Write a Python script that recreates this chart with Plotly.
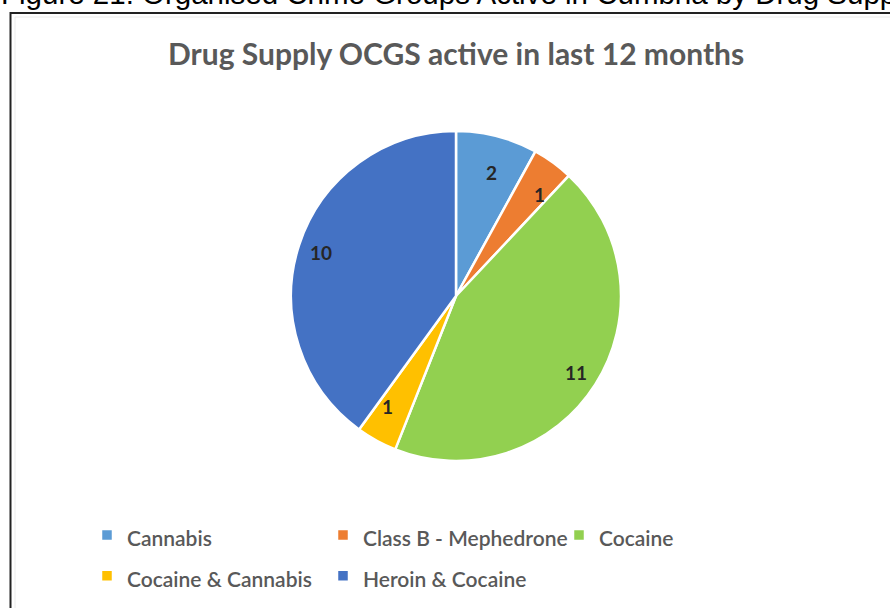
import math
import plotly.graph_objects as go

# Drug supply types and number of organised crime groups active in each
categories = ["Cannabis", "Class B - Mephedrone", "Cocaine",
              "Cocaine & Cannabis", "Heroin & Cocaine"]
ocg_counts = [2, 1, 11, 1, 10]
slice_colors = ["#5B9BD5", "#ED7D31", "#92D050", "#FFC000", "#4472C4"]

W, H = 890, 608
TEXT_GREY = "#595959"

# pie geometry in page pixels
CX, CY, R = 456, 296, 165

# legend rows are spaced by the legend's base font size; the visible
# label text is set smaller inside a span
legend_labels = [f'<span style="font-size:21px">{c}</span>' for c in categories]

fig = go.Figure()
fig.add_trace(go.Pie(
    labels=legend_labels,
    values=ocg_counts,
    marker=dict(colors=slice_colors, line=dict(color="white", width=2.5)),
    sort=False,
    direction="clockwise",
    rotation=0,
    textinfo="none",
    hovertemplate="%{customdata}: %{value}<extra></extra>",
    customdata=categories,
    domain=dict(x=[(CX - R) / W, (CX + R) / W],
                y=[1 - (CY + R) / H, 1 - (CY - R) / H]),
))

# data labels placed at each slice's mid-angle, near the rim
annotations = []
total = sum(ocg_counts)
cum = 0
for v in ocg_counts:
    mid = (cum + v / 2) / total * 2 * math.pi
    cum += v
    px = CX + 0.86 * R * math.sin(mid)
    py = CY - 0.86 * R * math.cos(mid)
    annotations.append(dict(
        x=px / W, y=1 - py / H, xref="paper", yref="paper",
        text=f"<b>{v}</b>", showarrow=False,
        font=dict(family="Lato", size=19, color="#262626"),
    ))

# document caption above the chart frame
annotations.append(dict(
    x=-1 / W, y=1 + 6 / H, xref="paper", yref="paper",
    xanchor="left", yanchor="middle", showarrow=False,
    text="Figure 21: Organised Crime Groups Active in Cumbria by Drug Supply",
    font=dict(family="Liberation Sans, Arial", size=29.5, color="#000000"),
))

# chart title
annotations.append(dict(
    x=CX / W, y=1 - 53 / H, xref="paper", yref="paper",
    xanchor="center", yanchor="middle", showarrow=False,
    text="<b>Drug Supply OCGS active in last 12 months</b>",
    font=dict(family="Lato", size=30, color=TEXT_GREY),
))

shapes = [
    # outer chart frame
    dict(type="rect", xref="paper", yref="paper",
         x0=10.5 / W, x1=1 + 10 / W, y0=-10 / H, y1=1 - 13 / H,
         line=dict(color="#222222", width=2), fillcolor="rgba(0,0,0,0)"),
    # faint inner chart-area border
    dict(type="rect", xref="paper", yref="paper",
         x0=15 / W, x1=1 + 10 / W, y0=-10 / H, y1=1 - 17 / H,
         line=dict(color="#ececec", width=1), fillcolor="rgba(0,0,0,0)"),
]

fig.update_layout(
    width=W, height=H,
    margin=dict(l=0, r=0, t=0, b=0),
    paper_bgcolor="white",
    plot_bgcolor="white",
    annotations=annotations,
    shapes=shapes,
    showlegend=True,
    legend=dict(
        orientation="h",
        x=87 / W, xanchor="left",
        y=1 - 509.6 / H, yanchor="top",
        entrywidth=191,
        font=dict(family="Lato", size=29, color=TEXT_GREY, weight=600),
        traceorder="normal",
        bgcolor="rgba(0,0,0,0)",
    ),
)

fig.write_html("out.html")
